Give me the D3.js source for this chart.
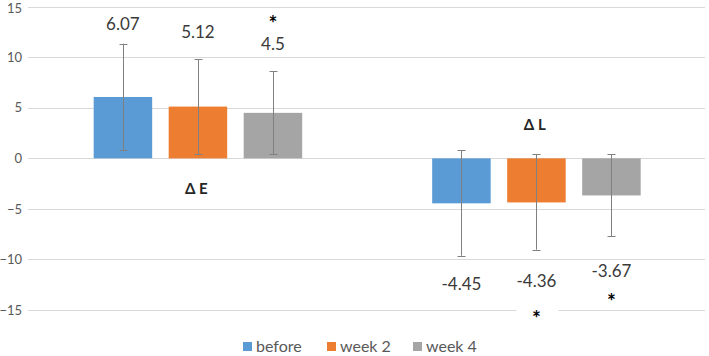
<!DOCTYPE html>
<html>
<head>
<meta charset="utf-8">
<script src="https://cdn.jsdelivr.net/npm/d3@7"></script>
<style>
  html, body { margin: 0; padding: 0; background: #fff; }
  svg { display: block; font-family: Lato, "Open Sans", sans-serif; }
</style>
</head>
<body>
<svg id="chart" width="709" height="356"></svg>
<script>
// ---- data ----
const categories = ["Δ E", "Δ L"];
const seriesNames = ["before", "week 2", "week 4"];
const seriesColors = ["#5B9BD5", "#ED7D31", "#A5A5A5"];
const meanBefore = [6.07, -4.45];
const meanWeek2 = [5.12, -4.36];
const meanWeek4 = [4.5, -3.67];
const errUpperBefore = [11.34, 0.82];
const errLowerBefore = [0.82, -9.63];
const errUpperWeek2 = [9.79, 0.43];
const errLowerWeek2 = [0.4, -9.04];
const errUpperWeek4 = [8.6, 0.43];
const errLowerWeek4 = [0.4, -7.69];
const significant = [[false, false, true], [false, true, true]];
const yTicks = [-15, -10, -5, 0, 5, 10, 15];

(function () {
const means = [meanBefore, meanWeek2, meanWeek4];
const upper = [errUpperBefore, errUpperWeek2, errUpperWeek4];
const lower = [errLowerBefore, errLowerWeek2, errLowerWeek4];

const svg = d3.select("#chart");
const mLeft = 28, mRight = 705, mTop = 6.7, mBottom = 310;

const y = d3.scaleLinear().domain([-15, 15]).range([mBottom, mTop]);
const x0 = d3.scaleBand().domain(categories).range([mLeft, mRight]).padding(0);
const bw = x0.bandwidth();
const x1 = d3.scaleBand().domain(seriesNames)
  .range([bw * 0.194, bw * 0.81]).paddingInner(0.22).paddingOuter(0);

// gridlines
svg.append("g").selectAll("line").data(yTicks).join("line")
  .attr("x1", mLeft).attr("x2", mRight)
  .attr("y1", d => Math.round(y(d)) + 0.5).attr("y2", d => Math.round(y(d)) + 0.5)
  .attr("stroke", "#D9D9D9").attr("stroke-width", 1);

// y axis labels
const yAxis = d3.axisLeft(y).tickValues(yTicks).tickSize(0).tickPadding(6);
const ga = svg.append("g").attr("transform", `translate(${mLeft},0)`).call(yAxis);
ga.select(".domain").remove();
ga.selectAll("text").attr("fill", "#595959").attr("font-size", 13)
  .attr("font-family", "Lato, sans-serif");
ga.selectAll(".tick").filter(d => d === d3.max(yTicks)).select("text").attr("dy", "0.42em");

// bars
const flat = [];
categories.forEach((c, ci) => seriesNames.forEach((s, si) => {
  flat.push({ c, ci, s, si, v: means[si][ci], hi: upper[si][ci], lo: lower[si][ci], sig: significant[ci][si] });
}));
const bx = d => x0(d.c) + x1(d.s);
const bcx = d => bx(d) + x1.bandwidth() / 2;

svg.append("g").selectAll("rect").data(flat).join("rect")
  .attr("x", bx).attr("width", x1.bandwidth())
  .attr("y", d => y(Math.max(0, d.v))).attr("height", d => Math.abs(y(d.v) - y(0)))
  .attr("fill", d => seriesColors[d.si]);

// error bars
const eg = svg.append("g").attr("stroke", "#808080").attr("stroke-width", 1);
flat.forEach(d => {
  const cx = Math.round(bcx(d)) + 0.5;
  eg.append("line").attr("x1", cx).attr("x2", cx).attr("y1", y(d.hi)).attr("y2", y(d.lo));
  [d.hi, d.lo].forEach(v => eg.append("line").attr("x1", cx - 4).attr("x2", cx + 4)
    .attr("y1", Math.round(y(v)) + 0.5).attr("y2", Math.round(y(v)) + 0.5));
});

// value labels (placed manually near the error bars, as in the source)
flat.forEach(d => {
  let ly;
  if (d.v >= 0) ly = y(d.hi) - [20, 27, 27][d.si];
  else ly = y(d.lo) + [28, 31, 35][d.si];
  svg.append("text").attr("x", bcx(d)).attr("y", ly + 6)
    .attr("text-anchor", "middle").attr("font-size", 17).attr("fill", "#3a3a3a")
    .text(d.v);
});

// significance stars (with white backing as in source)
flat.filter(d => d.sig).forEach(d => {
  let sy;
  if (d.v >= 0) sy = y(d.hi) - 52;
  else sy = y(d.lo) + (d.si === 1 ? 64 : 61);
  svg.append("rect").attr("x", bcx(d) - 20).attr("y", sy - 9).attr("width", 42).attr("height", 18)
    .attr("fill", "#fff");
  svg.append("text").attr("x", bcx(d)).attr("y", sy + 12)
    .attr("text-anchor", "middle").attr("font-size", 21).attr("font-weight", "bold")
    .attr("fill", "#000").text("*");
});

// category labels
const catY = [188, 124];
categories.forEach((c, i) => {
  svg.append("text").attr("x", x0(c) + bw / 2 - 1).attr("y", catY[i] + 6)
    .attr("text-anchor", "middle").attr("font-size", 15).attr("font-weight", "bold")
    .attr("fill", "#262626").text(c);
});

// legend
const legX = [243, 327, 413];
const lg = svg.append("g");
seriesNames.forEach((s, i) => {
  lg.append("rect").attr("x", legX[i]).attr("y", 342).attr("width", 9).attr("height", 9)
    .attr("fill", seriesColors[i]);
  lg.append("text").attr("x", legX[i] + 13).attr("y", 352).attr("font-size", 16)
    .attr("fill", "#595959").text(s);
});
})();
</script>
</body>
</html>
